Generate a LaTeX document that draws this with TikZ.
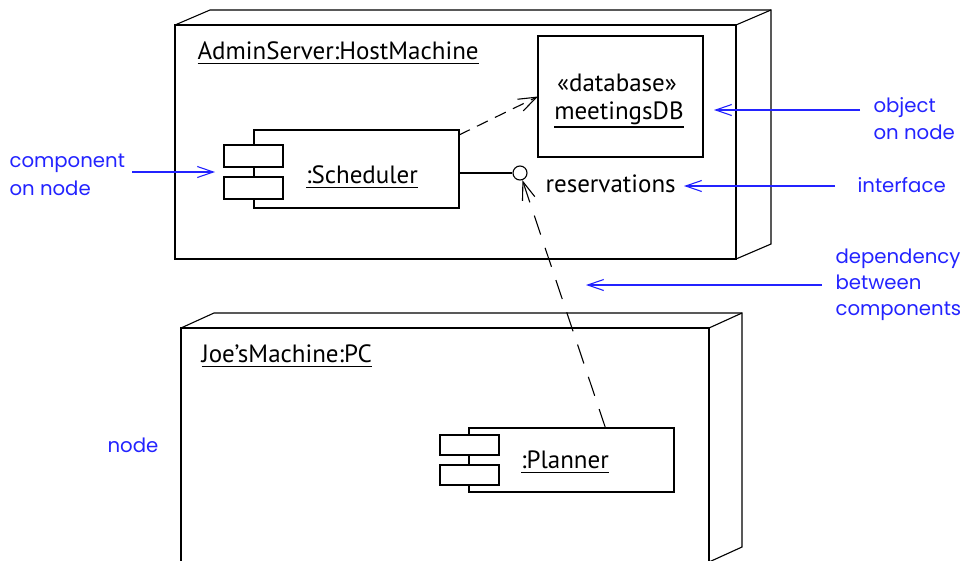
\documentclass[tikz,border=0pt]{standalone}
\usepackage{fontspec}
\setmainfont{PT Sans}
\newfontfamily\bluefont{Poppins}
\usetikzlibrary{arrows.meta}
\definecolor{lblue}{RGB}{35,35,255}
\newcommand\ulx[2][3.5pt]{\setbox0=\hbox{#2}\rlap{\vrule height -#1 depth \dimexpr#1+1.5pt\relax width \wd0}\box0}
\begin{document}
\begin{tikzpicture}[x=1pt,y=-1pt,line width=1.1pt,
  face/.style={draw,outer sep=0pt,inner sep=0pt,anchor=north west},
  boxx/.style={draw,outer sep=0pt,inner sep=0pt,anchor=north west},
  port/.style={draw,fill=white,outer sep=0pt,inner sep=0pt,anchor=north west,minimum width=59pt},
  txt/.style={inner sep=0pt,anchor=base west,font=\fontsize{25}{30}\selectfont},
  ctxt/.style={inner sep=0pt,anchor=base,font=\fontsize{25}{30}\selectfont},
  lbl/.style={inner sep=0pt,anchor=base west,text=lblue,font=\bluefont\fontsize{19.7}{24}\selectfont},
  barrow/.style={draw=lblue,line width=1.1pt,-{Straight Barb[length=16pt,width=11pt]}},
  dep1/.style={dash pattern=on 12pt off 8pt,-{Straight Barb[length=18pt,width=13pt]}},
  dep2/.style={dash pattern=on 20pt off 14pt,-{Straight Barb[length=18pt,width=13pt]}}]
\useasboundingbox (0,0) rectangle (961,560);
% top node
\node[face,minimum width=561pt,minimum height=234pt] (admin) at (175,25) {};
\draw (admin.north west) -- ++(35,-15) -- ++(561,0) -- ++(0,234) -- (admin.south east);
\draw (admin.north east) -- ++(35,-15);
\node[txt] (adminlbl) at (197,59) {\ulx{AdminServer:HostMachine}};
% database
\node[boxx,minimum width=165pt,minimum height=121pt] (db) at (538,36) {};
\node[ctxt] (dbst) at (617,91) {«database»};
\node[ctxt] (dbname) at (619,119) {\ulx[7pt]{meetingsDB}};
% scheduler
\node[boxx,minimum width=205pt,minimum height=78pt] (sched) at (254,130) {};
\node[port,minimum height=22pt] (schedp1) at (224,145) {};
\node[port,minimum height=22pt] (schedp2) at (224,177) {};
\node[ctxt] (schedlbl) at (362,183) {\ulx{:Scheduler}};
% interface
\node[draw,circle,minimum size=14pt,inner sep=0pt,fill=white] (iface) at (520,173) {};
\draw (sched.east |- iface) -- (iface);
\node[txt] (reslbl) at (545,192) {reservations};
\draw[dep1] ([yshift=-5pt]sched.north east) -- (db.west);
% bottom node
\node[face,minimum width=528pt,minimum height=234pt] (joe) at (181,328) {};
\draw (joe.north west) -- ++(33,-15) -- ++(528,0) -- ++(0,234) -- (joe.south east);
\draw (joe.north east) -- ++(33,-15);
\node[txt] (joelbl) at (201,362) {\ulx{Joe’sMachine:PC}};
% planner
\node[boxx,minimum width=205pt,minimum height=64pt] (planner) at (469,428) {};
\node[port,minimum height=20pt] (planp1) at (440,435) {};
\node[port,minimum height=20pt] (planp2) at (440,465) {};
\node[ctxt] (planlbl) at (565,468) {\ulx{:Planner}};
\coordinate (pstart) at ([xshift=34pt]planner.north);
\draw[dep2] (pstart) -- (iface);
% blue labels
\node[lbl] (l1a) at (9,167) {component};
\node[lbl] (l1b) at (9,195) {on node};
\coordinate (a1s) at (132,172);
\coordinate (a1e) at (215,172);
\draw[barrow] (a1s) -- (a1e);
\node[lbl] (l2a) at (873,112) {object};
\node[lbl] (l2b) at (873,139) {on node};
\coordinate (a2s) at (860,110);
\coordinate (a2e) at (714,110);
\draw[barrow] (a2s) -- (a2e);
\node[lbl] (l3) at (857,192) {interface};
\coordinate (a3s) at (835,186);
\coordinate (a3e) at (684,186);
\draw[barrow] (a3s) -- (a3e);
\node[lbl] (l4a) at (835,263) {dependency};
\node[lbl] (l4b) at (835,289) {between};
\node[lbl] (l4c) at (835,315) {components};
\coordinate (a4s) at (822,285);
\coordinate (a4e) at (586,285);
\draw[barrow] (a4s) -- (a4e);
\node[lbl] (l5) at (107,452) {node};
\end{tikzpicture}
\end{document}
